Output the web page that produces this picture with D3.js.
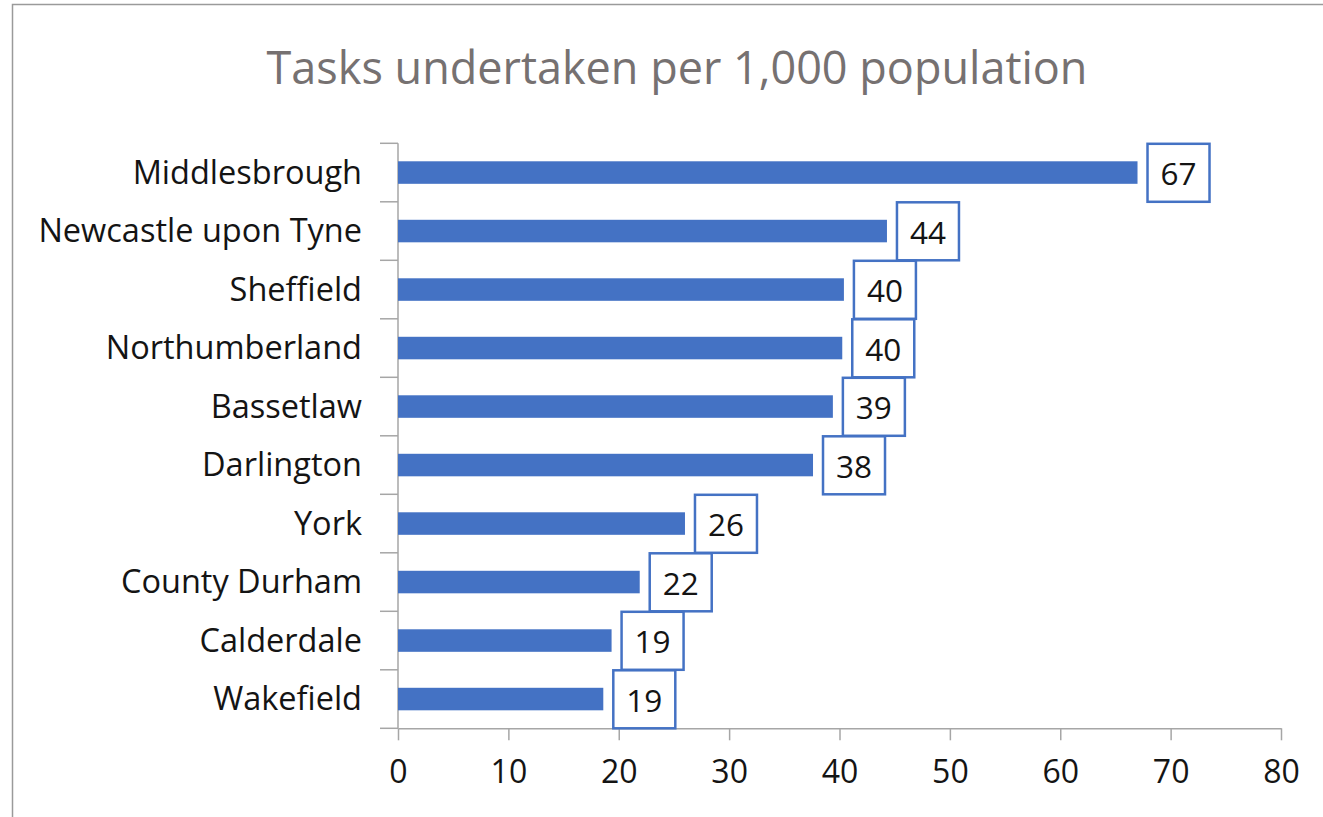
<!DOCTYPE html>
<html>
<head>
<meta charset="utf-8">
<script src="https://cdn.jsdelivr.net/npm/d3@7"></script>
<style>
  body { margin: 0; background: #fff; }
  text { font-family: "Open Sans", sans-serif; }
</style>
</head>
<body>
<svg id="chart" width="1323" height="817"></svg>
<script>
// data
const areas = ["Middlesbrough", "Newcastle upon Tyne", "Sheffield", "Northumberland",
  "Bassetlaw", "Darlington", "York", "County Durham", "Calderdale", "Wakefield"];
const tasks = [67.0, 44.3, 40.4, 40.25, 39.4, 37.6, 26.0, 21.9, 19.35, 18.6];
const xTicks = [0, 10, 20, 30, 40, 50, 60, 70, 80];
const title = "Tasks undertaken per 1,000 population";

const svg = d3.select("#chart");
const blue = "#4472C4", axisGrey = "#a6a6a6", ink = "#141414";

const rows = areas.map((a, i) => ({ area: a, value: tasks[i] }));

// outer chart border (only top / left visible in frame)
svg.append("rect")
  .attr("x", 12.5).attr("y", 4.5)
  .attr("width", 1340).attr("height", 840)
  .attr("fill", "none").attr("stroke", "#9a9a9a").attr("stroke-width", 1.5);

svg.append("text")
  .attr("x", 677).attr("y", 84)
  .attr("text-anchor", "middle")
  .attr("font-size", 45)
  .attr("fill", "#767171")
  .text(title);

const x = d3.scaleLinear().domain([0, 80]).range([398, 1281]);
const y = d3.scaleBand().domain(areas).range([143.3, 728.3]);
const barH = y.bandwidth() * 0.385;

// x axis
const xAxis = svg.append("g")
  .attr("transform", `translate(0,${y.range()[1]})`)
  .call(d3.axisBottom(x).tickValues(xTicks).tickSize(12).tickPadding(20).tickSizeOuter(0));
xAxis.select(".domain").attr("stroke", axisGrey).attr("stroke-width", 1.5);
xAxis.selectAll(".tick line").attr("stroke", axisGrey).attr("stroke-width", 1.5);
xAxis.selectAll(".tick text").attr("font-size", 32).attr("fill", ink)
  .style("font-family", "'Open Sans', sans-serif");

// y axis: line plus ticks on category boundaries
const yAxis = svg.append("g");
yAxis.append("line")
  .attr("x1", x(0)).attr("x2", x(0))
  .attr("y1", y.range()[0]).attr("y2", y.range()[1])
  .attr("stroke", axisGrey).attr("stroke-width", 1.5);
yAxis.selectAll("line.tk")
  .data(areas.map(a => y(a)).concat([y.range()[1]]))
  .join("line")
  .attr("class", "tk")
  .attr("x1", x(0) - 18).attr("x2", x(0))
  .attr("y1", d => d).attr("y2", d => d)
  .attr("stroke", axisGrey).attr("stroke-width", 1.5);
yAxis.selectAll("text")
  .data(areas)
  .join("text")
  .attr("x", 362)
  .attr("y", d => y(d) + y.bandwidth() / 2)
  .attr("dy", "0.35em")
  .attr("text-anchor", "end")
  .attr("font-size", 32.5)
  .attr("fill", ink)
  .text(d => d);

// bars
svg.append("g").selectAll("rect")
  .data(rows)
  .join("rect")
  .attr("x", x(0))
  .attr("y", d => y(d.area) + (y.bandwidth() - barH) / 2)
  .attr("width", d => x(d.value) - x(0))
  .attr("height", barH)
  .attr("fill", blue);

// boxed data labels
const fmt = d3.format(".0f");
const boxW = 62;
const lab = svg.append("g").selectAll("g")
  .data(rows)
  .join("g")
  .attr("transform", d => `translate(${x(d.value) + 10},${y(d.area) + 0.5})`);
lab.append("rect")
  .attr("width", boxW)
  .attr("height", y.bandwidth() - 0.5)
  .attr("fill", "#fff")
  .attr("stroke", blue)
  .attr("stroke-width", 2.5);
lab.append("text")
  .attr("x", boxW / 2)
  .attr("y", y.bandwidth() / 2 + 1)
  .attr("dy", "0.35em")
  .attr("text-anchor", "middle")
  .attr("font-size", 31.5)
  .attr("fill", ink)
  .text(d => fmt(d.value));
</script>
</body>
</html>
